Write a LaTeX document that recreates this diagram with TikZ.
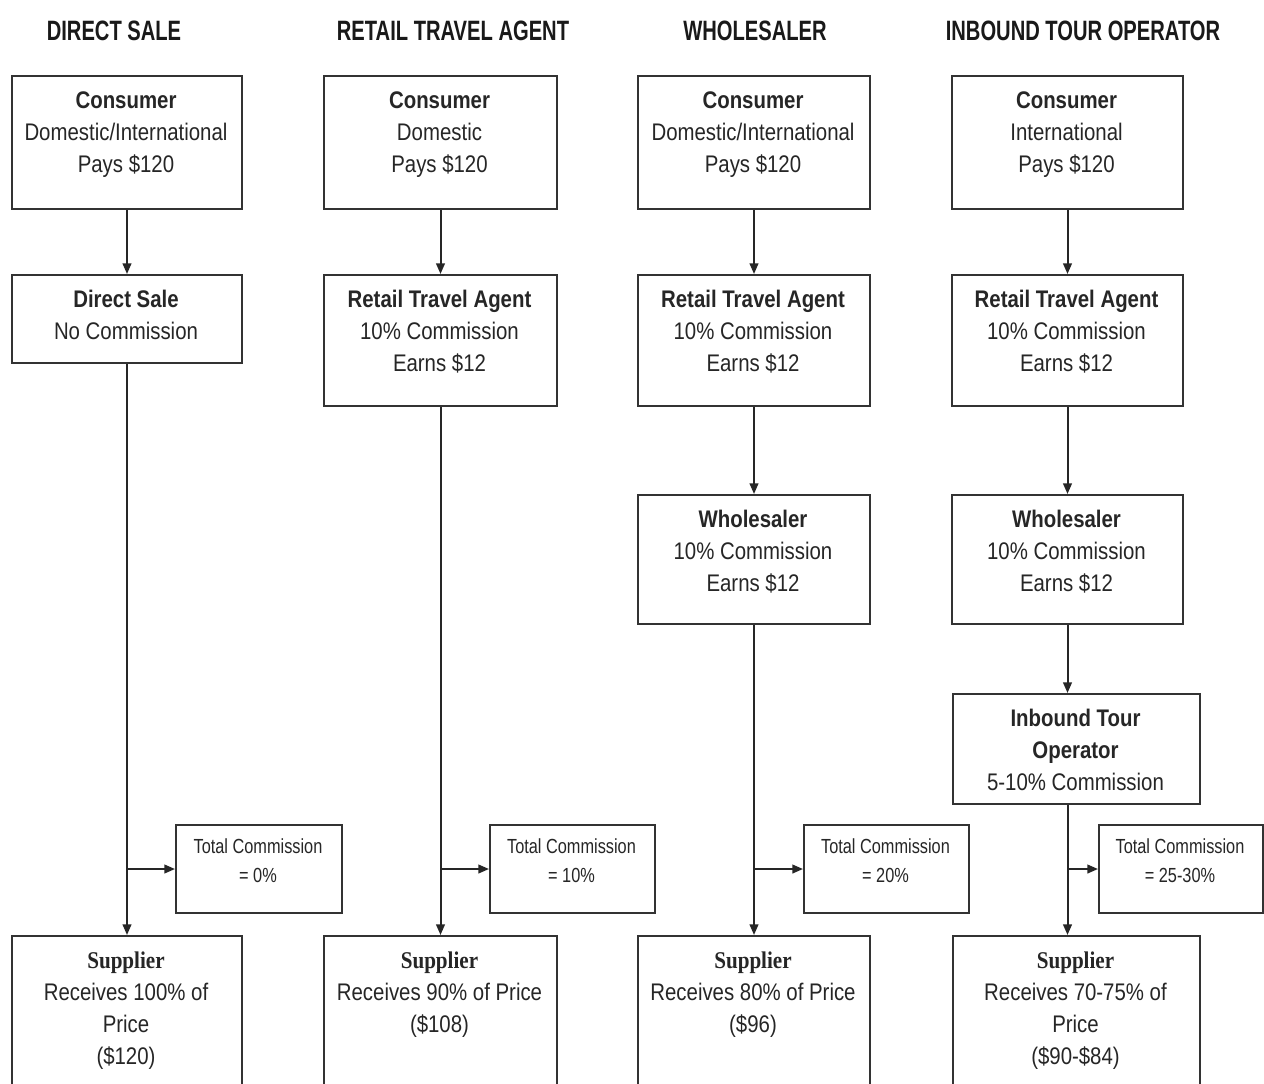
\documentclass[tikz,border=0pt]{standalone}
\usepackage{fontspec}
\setmainfont{Liberation Sans}[FakeStretch=0.85]
\newfontfamily\titlefont{Liberation Sans}[FakeStretch=0.72]
\newfontfamily\smallfont{Liberation Sans}[FakeStretch=0.8]
\newfontfamily\supfont{Liberation Serif}[FakeStretch=0.88]
\usetikzlibrary{arrows.meta}
\tikzset{
  boxn/.style={draw=black!80, line width=1.5pt, fill=white, inner sep=0pt},
  txt/.style={inner sep=0pt, text=black!85, font=\fontsize{18}{24}\selectfont},
  smalltxt/.style={inner sep=0pt, text=black!85, font=\smallfont\fontsize{15.3}{21.75}\selectfont},
  ttl/.style={inner sep=0pt, anchor=base, text=black!90, font=\titlefont\bfseries\fontsize{21}{25}\selectfont},
  arr/.style={draw=black!85, line width=1.5pt, -{Triangle[length=8pt,width=6.5pt]}},
}
\newcommand\mlines[1]{\begin{tabular}[t]{@{}c@{}}#1\end{tabular}}
\newcommand\mybox[6]{%
  \node[boxn, anchor=north west, minimum width={(#4-#2)*0.75pt}, minimum height={(#5-#3)*0.75pt}] (#1) at (#2,#3) {};
  \node[txt, anchor=base] (#1t) at ({(#2+#4)/2},{#3+33}) {\mlines{#6}};
}
\newcommand\mysmallbox[6]{%
  \node[boxn, anchor=north west, minimum width={(#4-#2)*0.75pt}, minimum height={(#5-#3)*0.75pt}] (#1) at (#2,#3) {};
  \node[smalltxt, anchor=base] (#1t) at ({(#2+#4)/2},{#3+29}) {\mlines{#6}};
}
\newcommand\supp{{\supfont\bfseries Supplier}}
\begin{document}
\begin{tikzpicture}[x=0.75pt, y=-0.75pt]
\useasboundingbox (0,0) rectangle (1264,1083);
\clip (0,0) rectangle (1264,1083);
\fill[white] (0,0) rectangle (1264,1083);

% titles
\node[ttl] (h1) at (114,40) {DIRECT SALE};
\node[ttl] (h2) at (453,40) {RETAIL TRAVEL AGENT};
\node[ttl] (h3) at (755,40) {WHOLESALER};
\node[ttl] (h4) at (1083,40) {INBOUND TOUR OPERATOR};

% column 1
\mybox{c1}{11}{75}{241}{208}{\textbf{Consumer}\\Domestic/International\\Pays \$120}
\mybox{d1}{11}{274}{241}{362}{\textbf{Direct Sale}\\No Commission}
\mysmallbox{t1}{175}{824}{341}{912}{Total Commission\\= 0\%}
\mybox{s1}{11}{935}{241}{1130}{\supp\\Receives 100\% of\\Price\\(\$120)}

% column 2
\mybox{c2}{323}{75}{556}{208}{\textbf{Consumer}\\Domestic\\Pays \$120}
\mybox{r2}{323}{274}{556}{405}{\textbf{Retail Travel Agent}\\10\% Commission\\Earns \$12}
\mysmallbox{t2}{489}{824}{654}{912}{Total Commission\\= 10\%}
\mybox{s2}{323}{935}{556}{1130}{\supp\\Receives 90\% of Price\\(\$108)}

% column 3
\mybox{c3}{637}{75}{869}{208}{\textbf{Consumer}\\Domestic/International\\Pays \$120}
\mybox{r3}{637}{274}{869}{405}{\textbf{Retail Travel Agent}\\10\% Commission\\Earns \$12}
\mybox{w3}{637}{494}{869}{623}{\textbf{Wholesaler}\\10\% Commission\\Earns \$12}
\mysmallbox{t3}{803}{824}{968}{912}{Total Commission\\= 20\%}
\mybox{s3}{637}{935}{869}{1130}{\supp\\Receives 80\% of Price\\(\$96)}

% column 4
\mybox{c4}{951}{75}{1182}{208}{\textbf{Consumer}\\International\\Pays \$120}
\mybox{r4}{951}{274}{1182}{405}{\textbf{Retail Travel Agent}\\10\% Commission\\Earns \$12}
\mybox{w4}{951}{494}{1182}{623}{\textbf{Wholesaler}\\10\% Commission\\Earns \$12}
\mybox{i4}{952}{693}{1199}{803}{\textbf{Inbound Tour}\\\textbf{Operator}\\5-10\% Commission}
\mysmallbox{t4}{1098}{824}{1262}{912}{Total Commission\\= 25-30\%}
\mybox{s4}{952}{935}{1199}{1130}{\supp\\Receives 70-75\% of\\Price\\(\$90-\$84)}

% connectors
\draw[arr] (c1) -- (d1);
\draw[arr] (d1) -- (s1);
\coordinate (b1) at (d1.south |- t1.west);
\draw[arr] (b1) -- (t1.west);

\draw[arr] (c2) -- (r2);
\draw[arr] (r2) -- (s2);
\coordinate (b2) at (r2.south |- t2.west);
\draw[arr] (b2) -- (t2.west);

\draw[arr] (c3) -- (r3);
\draw[arr] (r3) -- (w3);
\draw[arr] (w3) -- (s3);
\coordinate (b3) at (w3.south |- t3.west);
\draw[arr] (b3) -- (t3.west);

\draw[arr] (c4) -- (r4);
\draw[arr] (r4) -- (w4);
\draw[arr] (w4.south) -- (w4.south |- i4.north);
\coordinate (i4s) at (w4.south |- i4.south);
\draw[arr] (i4s) -- (i4s |- s4.north);
\coordinate (b4) at (w4.south |- t4.west);
\draw[arr] (b4) -- (t4.west);
\end{tikzpicture}
\end{document}
